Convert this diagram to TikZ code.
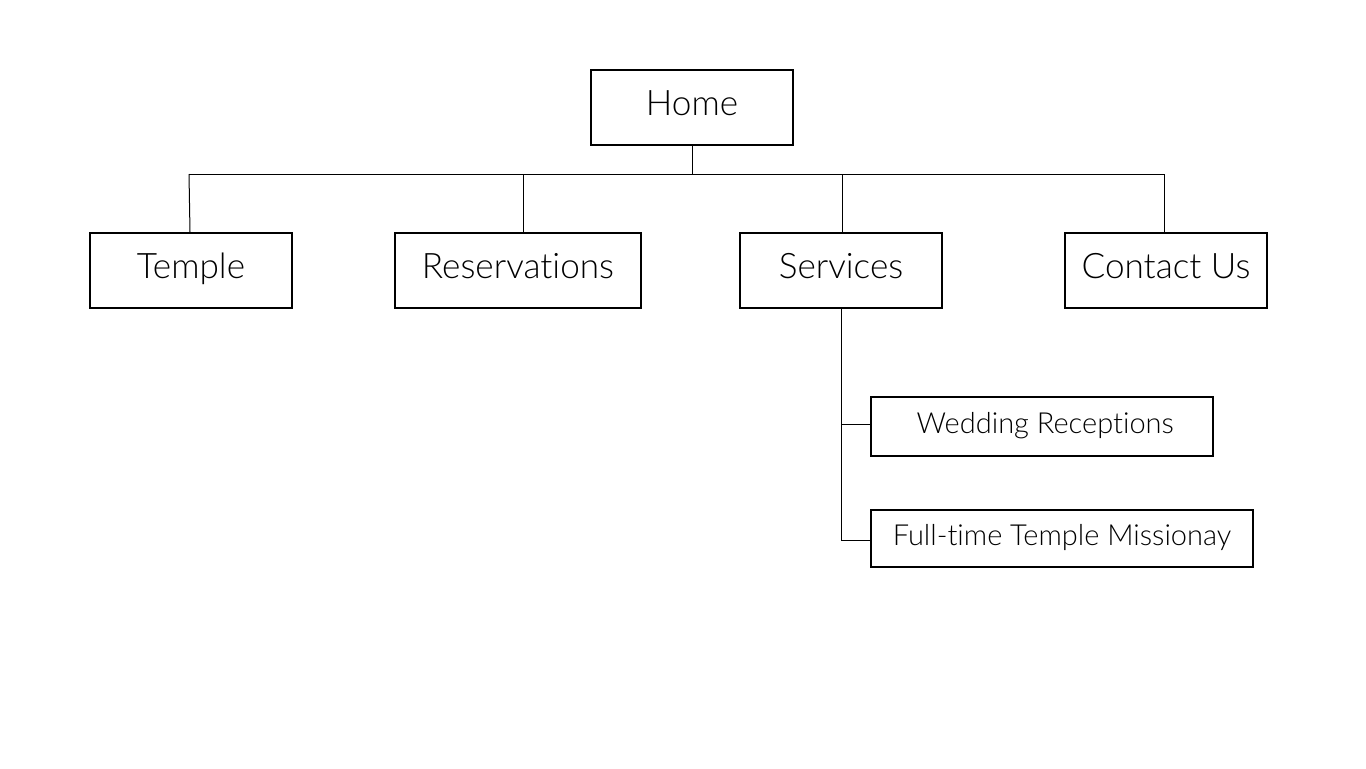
\documentclass[tikz,border=0pt]{standalone}
\usepackage{fontspec}
\setmainfont{Lato Light}[Ligatures={NoCommon,NoRare,NoDiscretionary}]
\usepackage{tikz}
\usetikzlibrary{positioning}

\tikzset{
    page/.style={x=0.02cm, y=-0.02cm},
    pagebox/.style={
        draw,
        line width=0.4mm,
        minimum width=4.04cm,
        minimum height=1.5cm,
        inner sep=0pt,
        text height=14pt,
        text depth=5pt,
        font=\fontsize{20}{24}\selectfont
    },
    subbox/.style={
        draw,
        line width=0.4mm,
        minimum height=1.18cm,
        inner sep=0pt,
        text height=11pt,
        text depth=3pt,
        font=\fontsize{16.5}{20}\selectfont
    },
    link/.style={line width=0.2mm}
}

\begin{document}
\begin{tikzpicture}[page]

                \useasboundingbox (0,0) rectangle (1366,768);

                % top level
                \node[pagebox] (home) at (692,107.5) {Home};

                % second level
                \node[pagebox] (temple) at (191,270.5) {Temple};
                \node[pagebox, minimum width=4.92cm] (reservations) at (518,270.5) {Reservations};
                \node[pagebox] (services) at (841,270.5) {Services};
                \node[pagebox] (contact) at (1166,270.5) {Contact Us};

                % services children
                \node[subbox, minimum width=6.84cm] (wedding) at (1042,426) {\hspace{0.13cm}Wedding Receptions};
                \node[subbox, minimum width=7.64cm, minimum height=1.14cm] (missionary) at (1062,538.5) {Full-time Temple Missionay};

                % bar under home
                \coordinate (barleft) at (189,174);
                \coordinate (barright) at (1164,174);
                \coordinate (barhome) at (692,174);
                \coordinate (barres) at (523,175);
                \coordinate (barserv) at (842,175);

                \draw[link] (barleft) -- (barright);
                \draw[link] (home.south) -- (barhome);
                \draw[link] (barleft) -- ([xshift=-0.02cm]temple.north);
                \draw[link] (barres) -- (barres |- reservations.north);
                \draw[link] (barserv) -- (barserv |- services.north);
                \draw[link] (barright) -- (barright |- contact.north);

                % trunk for services
                \coordinate (trunkwed) at (841,424);
                \coordinate (trunkmis) at (841,540);
                \draw[link] (services.south) -- (trunkmis) -- (trunkmis -| missionary.west);
                \draw[link] (trunkwed) -- (trunkwed -| wedding.west);

            \end{tikzpicture}
\end{document}
